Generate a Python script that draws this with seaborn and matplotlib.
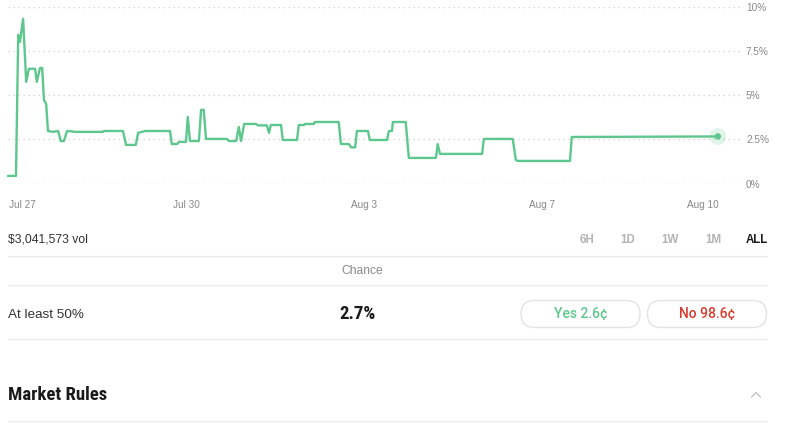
import numpy as np
import pandas as pd
import seaborn as sns
import matplotlib.pyplot as plt
from matplotlib.patches import FancyBboxPatch

# price history: days since start, chance in percent
days = [0.00, 0.18, 0.23, 0.27, 0.34, 0.41, 0.47, 0.61, 0.65, 0.72, 0.77, 0.81,
        0.86, 0.90, 1.01, 1.13, 1.19, 1.26, 1.33, 1.53, 2.14, 2.16, 2.59, 2.66,
        2.88, 2.93, 3.09, 3.65, 3.69, 3.81, 3.85, 4.01, 4.05, 4.10, 4.30, 4.35,
        4.41, 4.46, 4.93, 4.98, 5.14, 5.20, 5.25, 5.32, 5.59, 5.63, 5.83, 5.88,
        5.92, 6.15, 6.19, 6.51, 6.55, 6.67, 6.69, 6.89, 6.91, 7.45, 7.50, 7.68,
        7.73, 7.82, 7.86, 8.11, 8.15, 8.54, 8.58, 8.65, 8.67, 8.96, 9.03, 9.64,
        9.68, 9.73, 10.68, 10.72, 11.37, 11.44, 11.49, 12.66, 12.70, 15.99]
chance = [0.43, 0.43, 8.44, 8.04, 9.35, 5.77, 6.51, 6.51, 5.77, 6.56, 6.56, 4.74,
          4.52, 2.98, 2.93, 2.98, 2.41, 2.41, 2.98, 2.93, 2.93, 2.98, 2.98, 2.19,
          2.19, 2.87, 2.98, 2.98, 2.24, 2.24, 2.36, 2.36, 3.78, 2.41, 2.41, 4.18,
          4.18, 2.53, 2.53, 2.41, 2.41, 3.21, 2.41, 3.38, 3.38, 3.30, 3.30, 2.87,
          3.32, 3.32, 2.47, 2.47, 3.32, 3.32, 3.38, 3.38, 3.49, 3.49, 2.24, 2.24,
          2.05, 2.05, 2.98, 2.98, 2.47, 2.47, 2.98, 2.98, 3.49, 3.49, 1.45, 1.45,
          2.24, 1.68, 1.68, 2.53, 2.53, 1.34, 1.28, 1.28, 2.64, 2.67]

tick_days = [0.32, 4.02, 8.03, 12.03, 15.66]
tick_labels = ["Jul 27", "Jul 30", "Aug 3", "Aug 7", "Aug 10"]
y_ticks = [0, 2.5, 5, 7.5, 10]
y_labels = ["0%", "2.5%", "5%", "7.5%", "10%"]

volume = "$3,041,573 vol"
ranges = ["6H", "1D", "1W", "1M", "ALL"]
outcome = "At least 50%"
current = "2.7%"
yes_price = "Yes 2.6\u00a2"
no_price = "No 98.6\u00a2"

GREEN = "#5ec78e"
RED = "#d83b2d"

sns.set_style("white")
plt.rcParams['font.family'] = ['Liberation Sans', 'DejaVu Sans']
COND = ['Roboto Condensed', 'Liberation Sans Narrow', 'DejaVu Sans']

fig = plt.figure(figsize=(8, 4.45), dpi=100)

# ---- chart ----
W, H = 800, 445
ax = fig.add_axes([8 / W, (H - 183.5) / H, 732 / W, 176.2 / H])
df = pd.DataFrame({"day": days, "chance": chance})
sns.lineplot(data=df, x="day", y="chance", sort=False, estimator=None,
             color=GREEN, lw=1.7, ax=ax, solid_joinstyle="round", clip_on=False)
last = df.iloc[[-1]]
sns.scatterplot(data=last, x="day", y="chance", s=150, color=GREEN, alpha=0.18,
                edgecolor="none", ax=ax, clip_on=False)
sns.scatterplot(data=last, x="day", y="chance", s=22, color=GREEN,
                edgecolor="none", ax=ax, clip_on=False)

ax.set_xlim(0, 16.49)
ax.set_ylim(0, 10)
ax.set_xticks(tick_days, tick_labels)
ax.set_yticks(y_ticks, y_labels)
ax.yaxis.tick_right()
ax.tick_params(axis="both", length=0, labelsize=7.2, labelcolor="#888888")
ax.tick_params(axis="x", pad=12)
ax.tick_params(axis="y", pad=4.3)
ax.yaxis.grid(True, color="#d4d4d4", lw=1, linestyle=(0, (1, 2.6)))
ax.xaxis.grid(False)
ax.set_xlabel("")
ax.set_ylabel("")
sns.despine(ax=ax, left=True, bottom=True)

# ---- market panel below, in pixel units ----
pan = fig.add_axes([0, 0, 1, 1], zorder=-1)
pan.set_xlim(0, W)
pan.set_ylim(H, 0)
pan.axis("off")

pan.text(8, 240, volume, fontsize=8.7, color="#333333", va="center", ha="left")
for lab, cx in zip(ranges, [587, 628, 670, 713, 757]):
    pan.text(cx, 240, lab, fontsize=8.3, fontweight="bold", ha="center", va="center",
             color="#1a1a1a" if lab == "ALL" else "#b3b3b3")

for yy in [256, 285, 339, 421]:
    pan.plot([8, 767], [yy, yy], color="#ebebeb", lw=1)

pan.text(362, 270.5, "Chance", fontsize=8.7, color="#8a8a8a", ha="center", va="center")
pan.text(8, 314.5, outcome, fontsize=9.7, color="#333333", ha="left", va="center")
pan.text(358, 314, current, fontsize=13.5, fontweight="bold", family=COND,
         fontstretch="condensed", color="#1a1a1a", ha="center", va="center")

for x0, lab, col in [(521, yes_price, GREEN), (647.5, no_price, RED)]:
    pan.add_patch(FancyBboxPatch((x0, 300.5), 119, 27,
                                 boxstyle="round,pad=0,rounding_size=13.5",
                                 fc="white", ec="#e3e3e3", lw=1))
    pan.text(x0 + 59.5, 314.5, lab, fontsize=10, fontweight="medium",
             family=['Roboto', 'Liberation Sans'], color=col, ha="center", va="center")

pan.text(8, 395.5, "Market Rules", fontsize=13.5, fontweight="bold", family=COND,
         fontstretch="condensed", color="#1a1a1a", ha="left", va="center")
pan.plot([751.5, 756, 760.5], [397, 392.5, 397], color="#c4c4c4", lw=1)

fig.savefig("out.png", dpi=100)
